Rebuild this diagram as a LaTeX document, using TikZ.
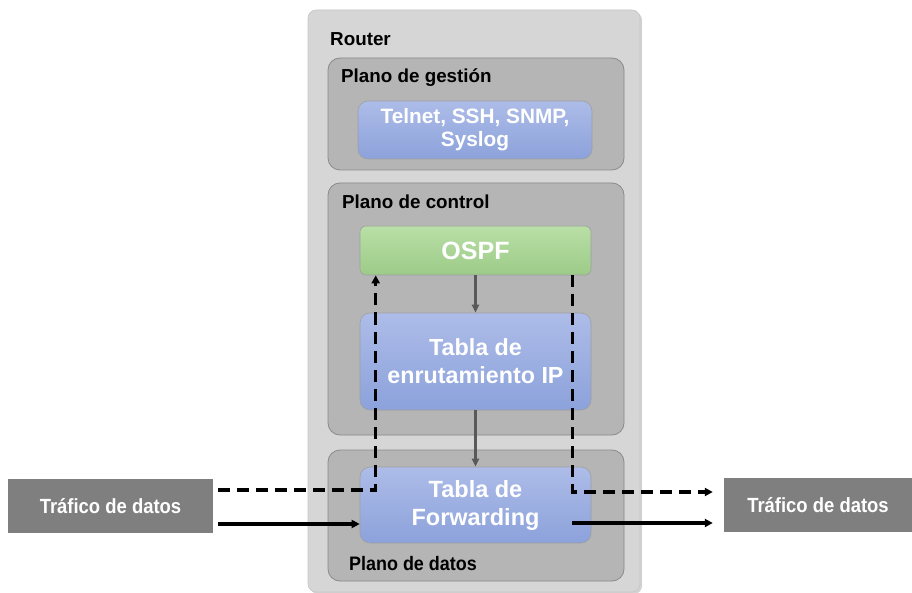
\documentclass[tikz,border=0pt]{standalone}
\usepackage{fontspec}
\setmainfont{Liberation Sans}
\usetikzlibrary{arrows.meta,calc,shadows}
\definecolor{outerfill}{HTML}{D6D6D6}
\definecolor{planefill}{HTML}{B5B5B5}
\definecolor{planeline}{HTML}{8A8A8A}
\definecolor{bluetop}{HTML}{ADBCE8}
\definecolor{bluebot}{HTML}{8CA2DB}
\definecolor{greentop}{HTML}{B9DFA6}
\definecolor{greenbot}{HTML}{9CCB88}
\definecolor{trafgray}{HTML}{7F7F7F}
\definecolor{arrgray}{HTML}{595959}
\tikzset{
  outerbox/.style={rounded corners=8pt, fill=outerfill, draw=gray!45, line width=0.6pt,
     drop shadow={shadow xshift=2pt, shadow yshift=-2pt, opacity=0.35}},
  planebox/.style={rounded corners=12pt, fill=planefill, draw=planeline, line width=0.8pt},
  bluebox/.style={rounded corners=10pt, top color=bluetop, bottom color=bluebot, draw=gray!75, line width=0.6pt,
     text=white, font=\bfseries, align=center},
  greenbox/.style={rounded corners=6pt, top color=greentop, bottom color=greenbot, draw=gray!75, line width=0.6pt,
     text=white, font=\bfseries},
  trafbox/.style={fill=trafgray, text=white, font=\bfseries\fontsize{20.5}{24}\selectfont, inner sep=0pt},
  lbl/.style={anchor=base west, font=\bfseries\fontsize{18.8}{22}\selectfont, inner sep=0pt},
  solidarr/.style={line width=3.2pt, -{Triangle[length=8pt,width=8pt]}},
  dasharr/.style={line width=3.2pt, dash pattern=on 12pt off 7pt, -{Triangle[length=8pt,width=8pt]}},
  grayarr/.style={line width=2.4pt, arrgray, -{Triangle[length=8pt,width=7pt]}},
}
\begin{document}
\begin{tikzpicture}[x=1pt,y=-1pt]
\useasboundingbox (0,0) rectangle (912,593);
% outer router
\node[outerbox, minimum width=332, minimum height=582] (router) at (474,301) {};
\node[lbl] (routerlbl) at (330,46) {Router};
% planes
\node[planebox, minimum width=296, minimum height=112] (gest) at (476,114) {};
\node[lbl] (gestlbl) at (341,83) {Plano de gestión};
\node[planebox, minimum width=296, minimum height=252] (ctrl) at (476,309) {};
\node[lbl] (ctrllbl) at (342,209) {Plano de control};
\node[planebox, minimum width=296, minimum height=131] (datos) at (476,515.5) {};
\node[lbl, font=\bfseries\fontsize{19.5}{22}\selectfont] (datoslbl) at (349,570) {\scalebox{0.92}[1]{Plano de datos}};
% inner boxes
\node[bluebox, minimum width=234, minimum height=58, font=\bfseries\fontsize{20.8}{23}\selectfont] (telnet) at (475,130) {Telnet, SSH, SNMP,\\Syslog};
\node[greenbox, minimum width=231, minimum height=49, font=\bfseries\fontsize{25}{30}\selectfont] (ospf) at (475.5,250.5) {OSPF};
\node[bluebox, minimum width=231, minimum height=97, font=\bfseries\fontsize{23.3}{28}\selectfont] (rt) at (475.5,361.5) {Tabla de\\enrutamiento IP};
\node[bluebox, minimum width=231, minimum height=76, font=\bfseries\fontsize{23.5}{28}\selectfont] (fwd) at (475.5,505) {Tabla de\\Forwarding};
% traffic boxes
\node[trafbox, minimum width=205, minimum height=54] (trafL) at (110.5,506) {\scalebox{0.9}[1]{Tráfico de datos}};
\node[trafbox, minimum width=188, minimum height=54] (trafR) at (818,505) {\scalebox{0.9}[1]{Tráfico de datos}};
% coordinates
\coordinate (sl0) at ($(trafL.east)+(5,18)$);
\coordinate (sr0) at ($(fwd.east)+(-19,18)$);
\coordinate (sr1) at ($(trafR.west)+(-11,0)$);
\coordinate (dl0) at ($(trafL.east)+(5,-16)$);
\coordinate (dl1) at ($(ospf.south west)+(16,0)$);
\coordinate (dr0) at ($(ospf.south east)+(-18.5,0)$);
\coordinate (dr1) at ($(trafR.west)+(-11,-13)$);
% gray arrows
\draw[grayarr] (ospf.south) -- (rt.north);
\draw[grayarr] (rt.south) -- (fwd.north);
% solid arrows
\draw[solidarr] (sl0) -- (fwd.west |- sl0);
\draw[solidarr] (sr0) -- (sr1 |- sr0);
% dashed arrows
\draw[dasharr] (dl0) -| (dl1);
\draw[dasharr] (dr0) |- (dr1);
\end{tikzpicture}
\end{document}
